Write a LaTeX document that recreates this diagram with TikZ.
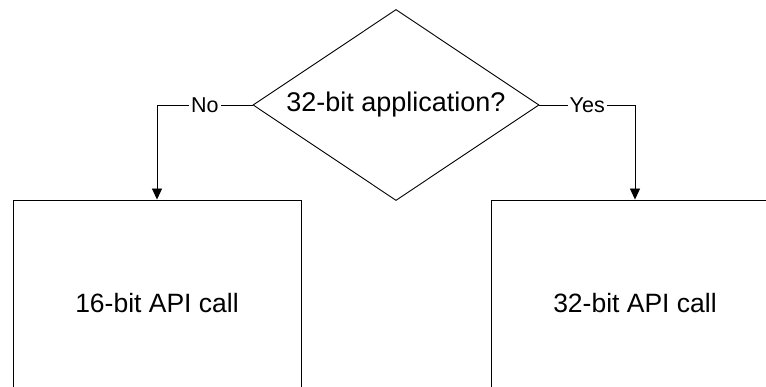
\documentclass[tikz,border=0pt]{standalone}
\usepackage{fontspec}
\setmainfont{Liberation Sans}
\usetikzlibrary{shapes.geometric, arrows.meta}

\begin{document}
\begin{tikzpicture}[x=1pt, y=-1pt, line width=0.9pt,
    decision/.style={draw, diamond, aspect=1.5, inner sep=0pt, minimum width=286pt, minimum height=191pt, font=\fontsize{27}{31}\selectfont},
    callbox/.style={draw, rectangle, inner sep=0pt, minimum width=288pt, minimum height=206pt, font=\fontsize{26.5}{30}\selectfont},
    branch/.style={fill=white, inner sep=2pt, font=\fontsize{21.5}{25}\selectfont},
    flow/.style={-{Triangle[width=10pt, length=11pt]}}]
            \clip (0, 0) rectangle (766, 387);
            \node[decision] (app) at (396, 105) {32-bit application?};
            \node[callbox] (call16) at (157, 303) {16-bit API call};
            \node[callbox] (call32) at (635, 303) {32-bit API call};
            \draw[flow] (app.west) -| node[branch, pos=0.25] {No} (call16.north);
            \draw[flow] (app.east) -| node[branch, pos=0.25] {Yes} (call32.north);
\end{tikzpicture}
\end{document}
